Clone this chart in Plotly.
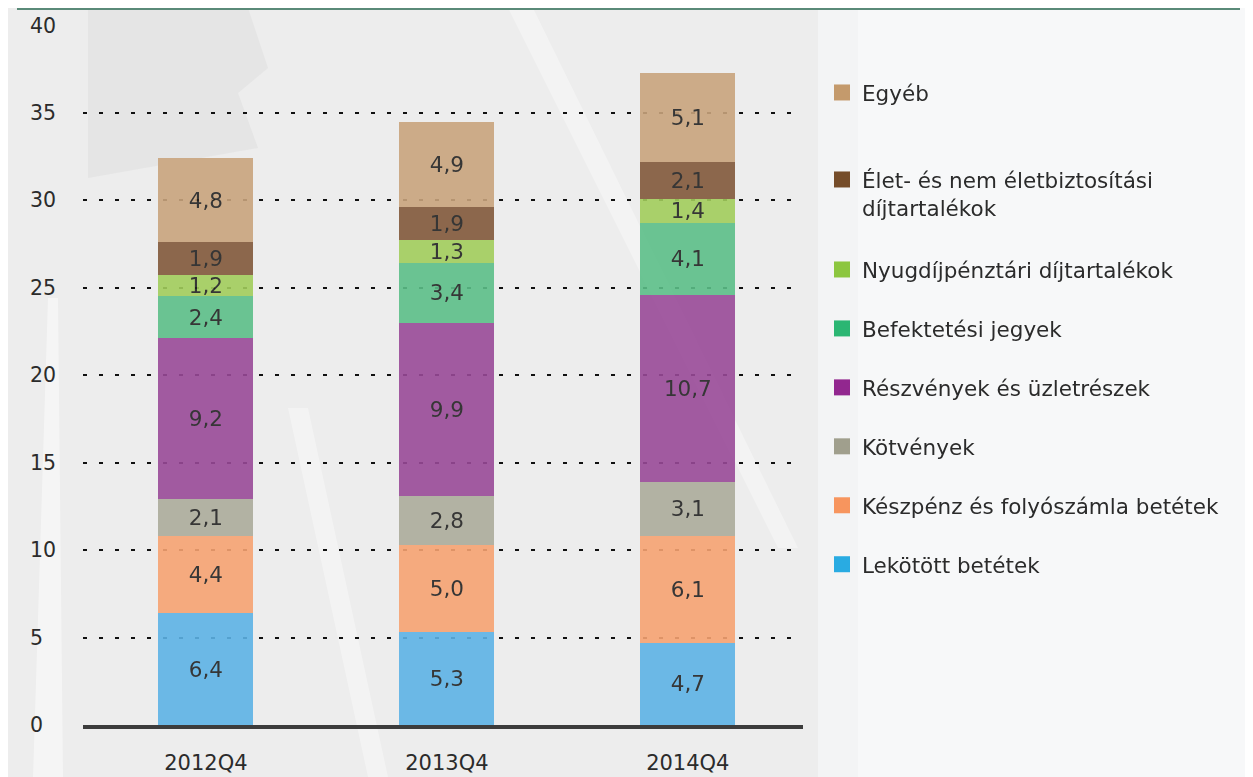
import plotly.graph_objects as go

categories = ["2012Q4", "2013Q4", "2014Q4"]

series_names = [
    "Lekötött betétek",
    "Készpénz és folyószámla betétek",
    "Kötvények",
    "Részvények és üzletrészek",
    "Befektetési jegyek",
    "Nyugdíjpénztári díjtartalékok",
    "Élet- és nem életbiztosítási<br>díjtartalékok",
    "Egyéb",
]

lekotott = [6.4, 5.3, 4.7]
keszpenz = [4.4, 5.0, 6.1]
kotvenyek = [2.1, 2.8, 3.1]
reszvenyek = [9.2, 9.9, 10.7]
befektetesi = [2.4, 3.4, 4.1]
nyugdij = [1.2, 1.3, 1.4]
elet = [1.9, 1.9, 2.1]
egyeb = [4.8, 4.9, 5.1]

series_values = [lekotott, keszpenz, kotvenyek, reszvenyek, befektetesi, nyugdij, elet, egyeb]

bar_colors = ["#5DB3E6", "#F6A372", "#ACAC9B", "#994A98", "#5CBF88", "#A2CD5C", "#82593A", "#C9A47D"]
legend_colors = ["#29ABE2", "#F7955E", "#A09F8D", "#92278F", "#2BB673", "#8CC63F", "#754C29", "#C49A6C"]

y_tickvals = [0, 5, 10, 15, 20, 25, 30, 35, 40]
y_ticktext = ["0\u2007", "5\u2007", "10", "15", "20", "25", "30", "35", "40"]

MAIN_FONT = "DejaVu Sans, Verdana, sans-serif"

# figure geometry (page body has an 8px margin)
W, H = 1237, 769
ML, MT, PW, PH = 75, 17, 720, 700
MR, MB = W - ML - PW, H - MT - PH

fig = go.Figure()

for name, vals, bc in zip(series_names, series_values, bar_colors):
    fig.add_trace(go.Bar(
        x=categories, y=vals, name=name, showlegend=False,
        marker=dict(color=bc, line=dict(width=0)), opacity=0.9,
        width=0.395,
        texttemplate="%{y:.1f}", textposition="inside", insidetextanchor="middle",
        textangle=0, constraintext="none",
        textfont=dict(family=MAIN_FONT, size=21.5, color="#222222"),
        hoverinfo="skip",
    ))

# legend entries, top to bottom
legend_of = {"Egyéb": "legend", "Élet- és nem életbiztosítási<br>díjtartalékok": "legend2"}
for name, lc in reversed(list(zip(series_names, legend_colors))):
    fig.add_trace(go.Scatter(
        x=[None], y=[None], mode="markers", name=name, legendgroup=name,
        legend=legend_of.get(name, "legend3"),
        marker=dict(symbol="square", size=16, color=lc),
    ))


def px_x(x):
    return (x - ML) / PW


def px_y(y):
    return 1 - (y - MT) / PH


shapes = [
    dict(type="rect", xref="paper", yref="paper", x0=px_x(0), x1=px_x(810), y0=px_y(H), y1=px_y(0),
         fillcolor="#EDEDED", line=dict(width=0), layer="below"),
    dict(type="rect", xref="paper", yref="paper", x0=px_x(810), x1=px_x(850), y0=px_y(H), y1=px_y(0),
         fillcolor="#F3F4F5", line=dict(width=0), layer="below"),
    dict(type="path", xref="paper", yref="paper",
         path=f"M {px_x(80)} {px_y(0)} L {px_x(240)} {px_y(0)} L {px_x(260)} {px_y(60)} L {px_x(230)} {px_y(85)} L {px_x(250)} {px_y(140)} L {px_x(80)} {px_y(170)} Z",
         fillcolor="#D6D6D6", line=dict(width=0), layer="below", opacity=0.35),
    dict(type="path", xref="paper", yref="paper",
         path=f"M {px_x(25)} {px_y(H)} L {px_x(55)} {px_y(H)} L {px_x(50)} {px_y(290)} L {px_x(40)} {px_y(290)} Z",
         fillcolor="white", line=dict(width=0), layer="below", opacity=0.45),
    dict(type="path", xref="paper", yref="paper",
         path=f"M {px_x(280)} {px_y(400)} L {px_x(300)} {px_y(400)} L {px_x(380)} {px_y(H)} L {px_x(360)} {px_y(H)} Z",
         fillcolor="white", line=dict(width=0), layer="below", opacity=0.35),
    dict(type="path", xref="paper", yref="paper",
         path=f"M {px_x(500)} {px_y(0)} L {px_x(525)} {px_y(0)} L {px_x(790)} {px_y(540)} L {px_x(770)} {px_y(540)} Z",
         fillcolor="white", line=dict(width=0), layer="below", opacity=0.35),
    dict(type="line", xref="paper", yref="paper", x0=px_x(9), x1=px_x(1232),
         y0=px_y(1), y1=px_y(1), line=dict(color="#5A8A78", width=2)),
]

legend_common = dict(
    xref="container", yref="container", xanchor="left", yanchor="top",
    traceorder="grouped", valign="top", maxheight=700,
    font=dict(family=MAIN_FONT, size=21.5, color="#2B2B2B"),
    bgcolor="rgba(0,0,0,0)",
)

LX = 814 / W
fig.update_layout(
    width=W, height=H,
    margin=dict(l=ML, r=MR, t=MT, b=MB, autoexpand=False),
    paper_bgcolor="#F7F8F9",
    plot_bgcolor="rgba(0,0,0,0)",
    barmode="stack",
    separators=", ",
    font=dict(family=MAIN_FONT, size=20, color="#2B2B2B"),
    showlegend=True,
    legend=dict(x=LX, y=1 - 64 / H, **legend_common),
    legend2=dict(x=LX, y=1 - 151 / H, **legend_common),
    legend3=dict(x=LX, y=1 - 241 / H, tracegroupgap=28, **legend_common),
    shapes=shapes,
    xaxis=dict(
        type="category", range=[-0.51, 2.478], automargin=False,
        showgrid=False, zeroline=False,
        showline=True, linecolor="#3C3C3C", linewidth=4,
        ticks="", ticklabelstandoff=16,
        tickfont=dict(family=MAIN_FONT, size=21, color="#2B2B2B"),
    ),
    yaxis=dict(
        range=[0, 40.02], tickvals=y_tickvals, ticktext=y_ticktext, automargin=False,
        showgrid=True, gridcolor="#111111", gridwidth=2, griddash="4px,12px",
        zeroline=False, showline=False, ticks="", ticklabelstandoff=26,
        tickfont=dict(family=MAIN_FONT, size=20.5, color="#2B2B2B"),
    ),
)

fig.write_html("out.html")
